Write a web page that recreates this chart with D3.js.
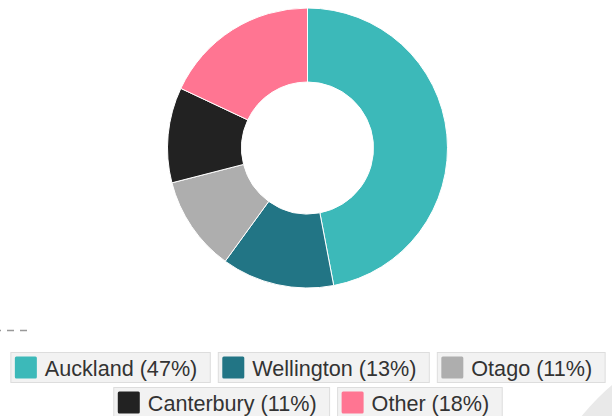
<!DOCTYPE html>
<html>
<head>
<meta charset="utf-8">
<script src="https://cdn.jsdelivr.net/npm/d3@7"></script>
<style>
    body { margin: 0; background: #fff; }
    #chart { width: 612px; height: 416px; overflow: hidden; }
</style>
</head>
<body>
<div id="chart"></div>
<script>
// Chart data
const regions = ["Auckland", "Wellington", "Otago", "Canterbury", "Other"];
const shares = [47, 13, 11, 11, 18];
const colors = ["#3cb9b9", "#227585", "#aeaeae", "#222222", "#ff7592"];

const width = 612, height = 416;

const svg = d3.select("#chart")
    .append("svg")
    .attr("width", width)
    .attr("height", height);

// Grey card edge in the bottom right corner
svg.append("circle")
    .attr("cx", 762)
    .attr("cy", 562)
    .attr("r", 232)
    .attr("fill", "#e9e9e9");

// Dashed fragment on the left
svg.append("line")
    .attr("x1", -6).attr("x2", 30)
    .attr("y1", 330.5).attr("y2", 330.5)
    .attr("stroke", "#999")
    .attr("stroke-width", 1.5)
    .attr("stroke-dasharray", "7,6");

// Donut
const cx = 307.5, cy = 148;
const pie = d3.pie().sort(null).value(d => d);
const arc = d3.arc().innerRadius(66).outerRadius(140);

const g = svg.append("g")
    .attr("transform", `translate(${cx},${cy})`);

g.selectAll("path")
    .data(pie(shares))
    .enter()
    .append("path")
    .attr("d", arc)
    .attr("fill", (d, i) => colors[i])
    .attr("stroke", "#fff")
    .attr("stroke-width", 1);

// Legend: boxes laid out in centered rows
const fontSize = 21.6;
const rows = [[0, 1, 2], [3, 4]];
const rowTops = [352, 387];
const gap = 8;

const legend = svg.append("g").attr("class", "legend");

rows.forEach((row, r) => {
    // build items first to measure text
    const items = row.map(i => {
        const item = legend.append("g");
        const rect = item.append("rect")
            .attr("height", 30)
            .attr("fill", "#f2f2f2")
            .attr("stroke", "#dddddd")
            .attr("stroke-width", 1);
        item.append("rect")
            .attr("x", 4).attr("y", 4)
            .attr("width", 22).attr("height", 22)
            .attr("rx", 1.5)
            .attr("fill", colors[i]);
        const text = item.append("text")
            .attr("x", 34)
            .attr("y", 23)
            .attr("font-family", "'Liberation Sans', Arial, sans-serif")
            .attr("font-size", fontSize)
            .attr("fill", "#333")
            .text(`${regions[i]} (${shares[i]}%)`);
        const w = 34 + text.node().getComputedTextLength() + 13;
        rect.attr("width", w);
        return { item, w };
    });
    const total = d3.sum(items, d => d.w) + gap * (items.length - 1);
    let x = cx - total / 2;
    items.forEach(d => {
        d.item.attr("transform", `translate(${x + 0.5},${rowTops[r] + 0.5})`);
        x += d.w + gap;
    });
});
</script>
</body>
</html>
